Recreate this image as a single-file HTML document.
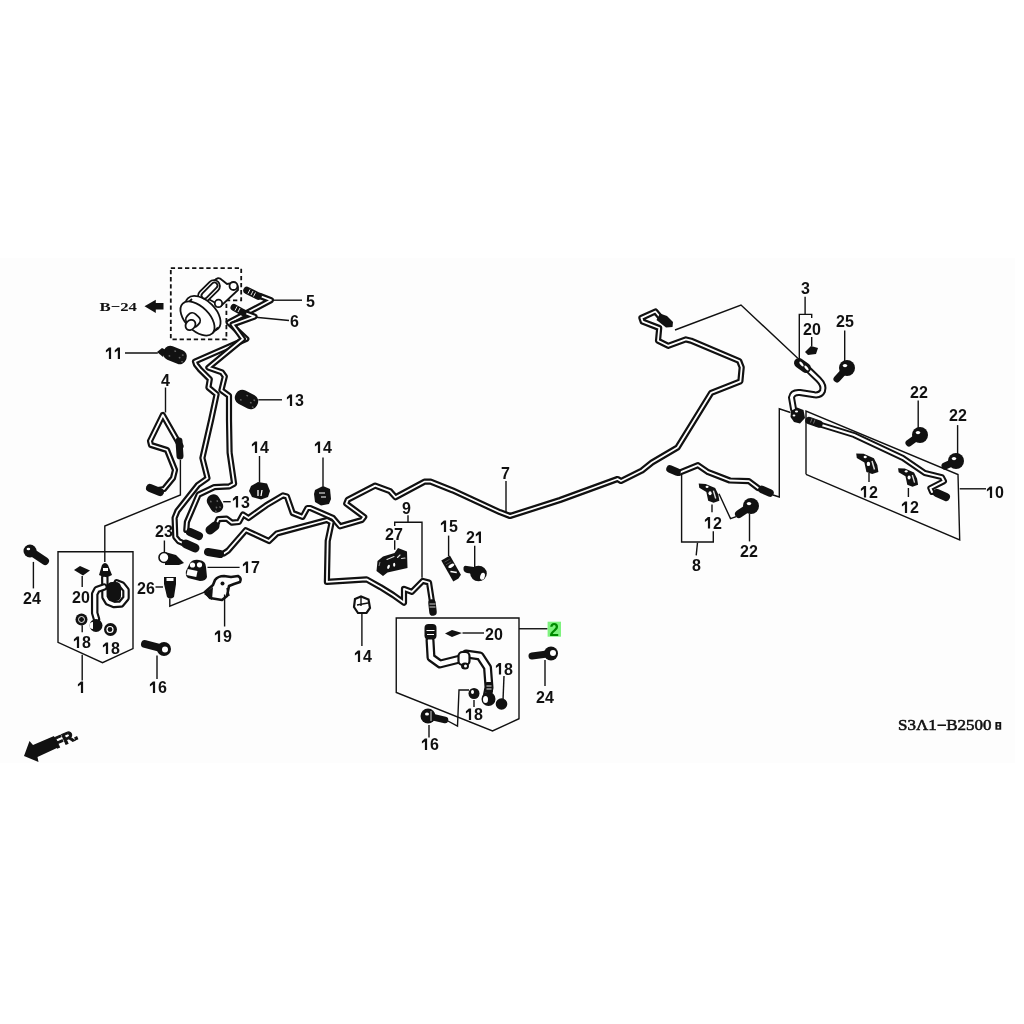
<!DOCTYPE html>
<html><head><meta charset="utf-8">
<style>
html,body{margin:0;padding:0;background:#fff;width:1024px;height:1024px;overflow:hidden}
svg{display:block;filter:blur(0.35px)}
.n{font-family:"Liberation Sans",sans-serif;font-size:16px;font-weight:bold;fill:#111}
.l{fill:none;stroke:#111;stroke-width:1.4}
.d{fill:#111}
</style></head><body>
<svg width="1024" height="1024" viewBox="0 0 1024 1024">
<rect x="0" y="258" width="1015" height="505" fill="#fdfdfd"/>

<g class="l">
<path d="M270,300.2 H302"/>
<path d="M253,317 L289,320.5"/>
<path d="M125,353 H157.8"/>
<path d="M165.5,387.5 V412.5"/>
<path d="M258.3,399.8 H282"/>
<path d="M259.5,456 V482.7"/>
<path d="M323,457.5 V486.6"/>
<path d="M223.2,501.7 H230.7"/>
<path d="M164.4,540.5 V552"/>
<path d="M207.5,567.4 H239.6"/>
<path d="M155.5,587 H163"/>
<path d="M169.8,598.6 V606.1 L208.8,590.4"/>
<path d="M224.6,594.5 V626.5"/>
<path d="M157,655.5 V679"/>
<path d="M361.9,613.75 V646"/>
<path d="M180.4,459.8 V495 L104.8,526 V561.9"/>
<path d="M58,551.7 H133 V648.6 L102.5,662.7 L58,642.3 Z"/>
<path d="M82.2,654.8 V680.6"/>
<path d="M82.2,576 V586.9"/>
<path d="M33.4,561.9 V588.4"/>
<path d="M82.2,625.2 V632.2"/>
<path d="M506,481 V512.5"/>
<path d="M408,515.3 V522.3"/>
<path d="M394.7,526 V522.3 H422 V577.8"/>
<path d="M394.7,540.3 V549.7"/>
<path d="M448.6,535.6 V556"/>
<path d="M474.7,545.8 V566.9"/>
<path d="M462.5,633 H484"/>
<path d="M396.25,618 H519 V718.75 L492.5,731 L396.25,692.5 Z"/>
<path d="M519,628.75 H547.5"/>
<path d="M504,676 L503,700"/>
<path d="M474,700 V707"/>
<path d="M429,725 V737.5"/>
<path d="M446,720 L457.5,726 L459,690 L469,690"/>
<path d="M545,660 V686"/>
<path d="M675,330 L741,305 L797.8,358.3"/>
<path d="M681.6,474.8 V542 H713.3 V531.25"/>
<path d="M697.5,542.7 L696.2,555.4"/>
<path d="M712,504.6 V512.2"/>
<path d="M719,493.8 L730.5,518.6 L736.2,516.6"/>
<path d="M749.5,513.5 V541.4"/>
<path d="M773,495 L779.3,497 V408.8 L790.5,412.5"/>
<path d="M805.1,296.8 V314.4"/>
<path d="M799.3,359.8 V314.4 H811.7 V318"/>
<path d="M811.7,337 V345.9"/>
<path d="M844.7,330.5 V361.3"/>
<path d="M806,474.3 V411 L958,474.5 L959.7,540 L806,474.3"/>
<path d="M959.7,488.8 H986"/>
<path d="M918.2,400.5 V429.2"/>
<path d="M957.6,425.1 V454.6"/>
<path d="M869,473 V482"/>
<path d="M908.4,488 V497"/>
</g>
<path d="M260.0,296.0 L270.9,300.2 L228.7,322.5 L246.3,339.0 L195.0,361.5 L196.0,364.5 L200.2,369.7 L209.8,379.2 L208.4,387.5 L216.6,394.3 L211.1,420.0 L202.4,458.0 L207.5,478.2 L197.9,485.0 L177.4,511.0 L174.6,517.9 L175.3,537.0 L178.7,541.1 L185.0,544.0" fill="none" stroke="#111" stroke-width="6.2" stroke-linejoin="round" stroke-linecap="round"/>
<path d="M260.0,296.0 L270.9,300.2 L228.7,322.5 L246.3,339.0 L195.0,361.5 L196.0,364.5 L200.2,369.7 L209.8,379.2 L208.4,387.5 L216.6,394.3 L211.1,420.0 L202.4,458.0 L207.5,478.2 L197.9,485.0 L177.4,511.0 L174.6,517.9 L175.3,537.0 L178.7,541.1 L185.0,544.0" fill="none" stroke="#fff" stroke-width="1.8" stroke-linejoin="round" stroke-linecap="round"/>
<path d="M245.0,313.0 L254.5,316.7 L232.5,324.5 L243.0,339.0 L208.4,367.6 L222.0,372.4 L224.8,376.5 L221.4,390.2 L229.0,395.7 L229.0,420.0 L229.6,452.7 L234.1,483.7 L229.3,486.4 L214.3,487.1 L198.6,494.6 L186.9,522.0 L186.3,530.0" fill="none" stroke="#111" stroke-width="6.2" stroke-linejoin="round" stroke-linecap="round"/>
<path d="M245.0,313.0 L254.5,316.7 L232.5,324.5 L243.0,339.0 L208.4,367.6 L222.0,372.4 L224.8,376.5 L221.4,390.2 L229.0,395.7 L229.0,420.0 L229.6,452.7 L234.1,483.7 L229.3,486.4 L214.3,487.1 L198.6,494.6 L186.9,522.0 L186.3,530.0" fill="none" stroke="#fff" stroke-width="1.8" stroke-linejoin="round" stroke-linecap="round"/>
<path d="M180.5,446.0 L162.8,415.0 L150.0,441.0 L151.0,445.0 L167.0,450.0 L175.0,470.0 L173.0,478.0 L164.0,489.0 L158.0,490.0" fill="none" stroke="#111" stroke-width="6.2" stroke-linejoin="round" stroke-linecap="round"/>
<path d="M180.5,446.0 L162.8,415.0 L150.0,441.0 L151.0,445.0 L167.0,450.0 L175.0,470.0 L173.0,478.0 L164.0,489.0 L158.0,490.0" fill="none" stroke="#fff" stroke-width="1.8" stroke-linejoin="round" stroke-linecap="round"/>
<path d="M215.7,526.0 L218.4,519.2 L226.6,518.6 L232.0,522.7 L238.9,522.0 L243.0,514.5 L248.5,518.0 L266.4,505.2 L283.0,495.4 L286.9,496.4 L292.7,513.0 L302.5,516.9 L307.4,508.0 L310.3,508.0 L332.8,517.8 L340.0,526.3 L361.9,520.0 L364.2,516.9 L346.2,503.6 L347.8,499.7 L375.2,485.6 L390.0,491.1 L395.5,497.3 L424.4,481.7 L430.6,481.7 L452.5,490.3 L500.0,512.2 L510.0,516.0 L560.0,500.0 L617.5,479.0 L621.0,481.0 L642.0,470.5 L652.0,462.5 L677.5,447.5 L711.2,392.8 L740.4,381.3 L741.7,367.4 L739.2,361.0 L691.0,340.7 L685.9,339.4 L668.1,345.8 L658.0,340.7 L659.2,328.0 L642.7,321.7 L641.4,317.9 L655.4,311.5 L660.0,317.0" fill="none" stroke="#111" stroke-width="6.2" stroke-linejoin="round" stroke-linecap="round"/>
<path d="M215.7,526.0 L218.4,519.2 L226.6,518.6 L232.0,522.7 L238.9,522.0 L243.0,514.5 L248.5,518.0 L266.4,505.2 L283.0,495.4 L286.9,496.4 L292.7,513.0 L302.5,516.9 L307.4,508.0 L310.3,508.0 L332.8,517.8 L340.0,526.3 L361.9,520.0 L364.2,516.9 L346.2,503.6 L347.8,499.7 L375.2,485.6 L390.0,491.1 L395.5,497.3 L424.4,481.7 L430.6,481.7 L452.5,490.3 L500.0,512.2 L510.0,516.0 L560.0,500.0 L617.5,479.0 L621.0,481.0 L642.0,470.5 L652.0,462.5 L677.5,447.5 L711.2,392.8 L740.4,381.3 L741.7,367.4 L739.2,361.0 L691.0,340.7 L685.9,339.4 L668.1,345.8 L658.0,340.7 L659.2,328.0 L642.7,321.7 L641.4,317.9 L655.4,311.5 L660.0,317.0" fill="none" stroke="#fff" stroke-width="1.8" stroke-linejoin="round" stroke-linecap="round"/>
<path d="M223.9,553.4 L228.0,550.7 L245.8,530.2 L269.0,541.0 L276.9,533.4 L326.9,520.0 L331.6,522.5 L327.7,541.0 L326.9,581.9 L366.6,579.4 L380.6,587.2 L393.1,595.0 L404.0,602.8 L404.0,588.8 L411.9,591.9 L422.8,580.9 L429.0,582.5 L432.0,602.0" fill="none" stroke="#111" stroke-width="6.2" stroke-linejoin="round" stroke-linecap="round"/>
<path d="M223.9,553.4 L228.0,550.7 L245.8,530.2 L269.0,541.0 L276.9,533.4 L326.9,520.0 L331.6,522.5 L327.7,541.0 L326.9,581.9 L366.6,579.4 L380.6,587.2 L393.1,595.0 L404.0,602.8 L404.0,588.8 L411.9,591.9 L422.8,580.9 L429.0,582.5 L432.0,602.0" fill="none" stroke="#fff" stroke-width="1.8" stroke-linejoin="round" stroke-linecap="round"/>
<path d="M679.0,472.9 L698.0,465.2 L708.2,472.2 L729.8,480.5 L748.9,481.1 L758.0,488.0" fill="none" stroke="#111" stroke-width="6.2" stroke-linejoin="round" stroke-linecap="round"/>
<path d="M679.0,472.9 L698.0,465.2 L708.2,472.2 L729.8,480.5 L748.9,481.1 L758.0,488.0" fill="none" stroke="#fff" stroke-width="1.8" stroke-linejoin="round" stroke-linecap="round"/>
<path d="M809.5,370.8 L818.5,379.5 Q824.5,385.5 822.5,391 Q820.5,395.5 814.5,394.8 L800,392.5 Q792.5,391.8 791.5,397.5 L793.5,409" fill="none" stroke="#111" stroke-width="7" stroke-linejoin="round" stroke-linecap="round"/>
<path d="M809.5,370.8 L818.5,379.5 Q824.5,385.5 822.5,391 Q820.5,395.5 814.5,394.8 L800,392.5 Q792.5,391.8 791.5,397.5 L793.5,409" fill="none" stroke="#fff" stroke-width="3" stroke-linejoin="round" stroke-linecap="round"/>
<path d="M815.0,423.0 L854.0,435.0 L902.9,458.0 L924.8,473.0 L941.9,477.1 L944.0,481.2 L930.3,488.1 L932.0,492.0" fill="none" stroke="#111" stroke-width="6" stroke-linejoin="round" stroke-linecap="round"/>
<path d="M815.0,423.0 L854.0,435.0 L902.9,458.0 L924.8,473.0 L941.9,477.1 L944.0,481.2 L930.3,488.1 L932.0,492.0" fill="none" stroke="#fff" stroke-width="2" stroke-linejoin="round" stroke-linecap="round"/>
<path d="M104.8,577.5 L105.0,597.0 L108.0,602.0 L114.0,604.5 L121.0,604.0 L126.0,598.0 L126.0,590.0 L122.0,585.0 L117.0,583.0" fill="none" stroke="#111" stroke-width="7.5" stroke-linejoin="round" stroke-linecap="round"/>
<path d="M104.8,577.5 L105.0,597.0 L108.0,602.0 L114.0,604.5 L121.0,604.0 L126.0,598.0 L126.0,590.0 L122.0,585.0 L117.0,583.0" fill="none" stroke="#fff" stroke-width="3.2" stroke-linejoin="round" stroke-linecap="round"/>
<path d="M104.0,587.0 L97.0,589.5 L94.7,594.0 L94.7,613.0 L96.5,619.0" fill="none" stroke="#111" stroke-width="7.5" stroke-linejoin="round" stroke-linecap="round"/>
<path d="M104.0,587.0 L97.0,589.5 L94.7,594.0 L94.7,613.0 L96.5,619.0" fill="none" stroke="#fff" stroke-width="3.2" stroke-linejoin="round" stroke-linecap="round"/>
<path d="M430.0,640.0 L431.0,657.5 L440.0,664.0 L460.0,659.0 L466.0,654.0 L480.0,656.0 L487.5,667.5 L489.0,687.5 L487.5,695.0" fill="none" stroke="#111" stroke-width="9" stroke-linejoin="round" stroke-linecap="round"/>
<path d="M430.0,640.0 L431.0,657.5 L440.0,664.0 L460.0,659.0 L466.0,654.0 L480.0,656.0 L487.5,667.5 L489.0,687.5 L487.5,695.0" fill="none" stroke="#fff" stroke-width="4.5" stroke-linejoin="round" stroke-linecap="round"/>
<path d="M170.8,268.2 H241.2 V300.4 H226.4 V339.3 H170.8 Z" fill="none" stroke="#111" stroke-width="1.8" stroke-dasharray="4.3,2.8"/>
<text x="99.5" y="311.4" font-family="Liberation Serif,serif" font-size="13.5" font-weight="bold" fill="#111" textLength="37.5" lengthAdjust="spacingAndGlyphs">B−24</text>
<path d="M144.5,306.3 L155.8,299.7 V303 H163.5 V309.4 H155.8 V312.9 Z" fill="#111"/>
<g fill="#fff" stroke="#111" stroke-width="1.8"><path d="M203,296 L214,281 Q218,276 222,280 L227,284 L233,283 Q239,284 238,290 L221,306 Z"/><rect x="-6" y="-13" width="12" height="26" rx="6" transform="translate(209,291) rotate(45)"/><circle cx="233.5" cy="286" r="4"/><circle cx="218.5" cy="303.4" r="3.7"/><ellipse cx="203" cy="313.5" rx="21.5" ry="12.5" transform="rotate(45 203 313.5)"/><path d="M186.5,304.5 L192,299" stroke-width="1.8"/><path d="M212.5,333 L218,327.5" stroke-width="1.8"/><ellipse cx="197.5" cy="318.5" rx="21" ry="11.8" transform="rotate(45 197.5 318.5)"/><rect x="186" y="314" width="14" height="12" rx="5" transform="rotate(42 193 320)"/><ellipse cx="190.5" cy="325" rx="4.5" ry="5.5" transform="rotate(42 190.5 325)"/><rect x="-3" y="-10" width="6" height="20" rx="3" transform="translate(209.5,290.5) rotate(45)"/></g>
<path d="M247,290.5 L258,296" stroke="#111" stroke-width="7.5" stroke-linecap="round"/>
<path d="M234,307.5 L243,312.5" stroke="#111" stroke-width="7" stroke-linecap="round"/>
<path d="M250,289.5 l-2,4 M253,291 l-2,4 M255.5,292.5 l-2,4" stroke="#fff" stroke-width="0.9"/>
<path d="M237,306.5 l-2,4 M240,308 l-2,4" stroke="#fff" stroke-width="0.9"/>
<g transform="translate(175,355) rotate(22)"><rect x="-12.0" y="-7.25" width="24" height="14.5" rx="6.59090909090909" fill="#111"/><ellipse cx="-1.2" cy="-3.6" rx="1" ry="0.8" fill="#666"/><ellipse cx="5.3" cy="0.7" rx="1" ry="0.8" fill="#666"/><ellipse cx="7.2" cy="-2.9" rx="1" ry="0.8" fill="#666"/><ellipse cx="9.1" cy="3.6" rx="1" ry="0.8" fill="#666"/><ellipse cx="-4.8" cy="2.9" rx="1" ry="0.8" fill="#666"/></g>
<path d="M157,352 L162,348 L166,350 L163,357 Z" fill="#111"/>
<g transform="translate(246.5,399.5) rotate(28)"><rect x="-12.0" y="-7.5" width="24" height="15" rx="6.8181818181818175" fill="#111"/><ellipse cx="-1.2" cy="-3.8" rx="1" ry="0.8" fill="#666"/><ellipse cx="5.3" cy="0.8" rx="1" ry="0.8" fill="#666"/><ellipse cx="7.2" cy="-3.0" rx="1" ry="0.8" fill="#666"/><ellipse cx="9.1" cy="3.8" rx="1" ry="0.8" fill="#666"/><ellipse cx="-4.8" cy="3.0" rx="1" ry="0.8" fill="#666"/></g>
<g transform="translate(215,503.5) rotate(60)"><rect x="-9.5" y="-6.5" width="19" height="13" rx="5.909090909090908" fill="#111"/><ellipse cx="-1.0" cy="-3.2" rx="1" ry="0.8" fill="#666"/><ellipse cx="4.2" cy="0.7" rx="1" ry="0.8" fill="#666"/><ellipse cx="5.7" cy="-2.6" rx="1" ry="0.8" fill="#666"/><ellipse cx="7.2" cy="3.2" rx="1" ry="0.8" fill="#666"/><ellipse cx="-3.8" cy="2.6" rx="1" ry="0.8" fill="#666"/></g>
<path d="M251,486 L258,482 L267,483.5 L270,491 L268,497 L261,499.5 L252,497 L249,491 Z" fill="#111"/><path d="M258,490 v6 M262,490 l-1,6" stroke="#fff" stroke-width="1.3"/>
<path d="M315,490 L323,486 L330,489 L331,499 L329,504 L321,505.5 L315,502 L314,494 Z" fill="#111"/><path d="M319,493 h6 M321,497 h5" stroke="#fff" stroke-width="1.1"/>
<path d="M355,599 L361,596.5 L368.5,599.5 L370,608 L366.5,613 L358,613 L354,607 Z" fill="#fff" stroke="#111" stroke-width="2.2"/><path d="M357,605 L368,603 M361,597 v9" stroke="#111" stroke-width="1.4"/>
<path d="M150,488 L160,492" stroke="#111" stroke-width="8" stroke-linecap="round"/>
<path d="M179,441 L180,456" stroke="#111" stroke-width="7" stroke-linecap="round"/>
<path d="M186,544 L195,548" stroke="#111" stroke-width="9" stroke-linecap="round"/>
<path d="M190,532 L199,536" stroke="#111" stroke-width="8" stroke-linecap="round"/>
<path d="M210,530 L215,526" stroke="#111" stroke-width="9" stroke-linecap="round"/>
<path d="M208,552 L220,554" stroke="#111" stroke-width="8" stroke-linecap="round"/>
<path d="M165,552 L176,555 L184,563 L179,565 L165,565 Z" fill="#111"/><circle cx="164" cy="557.5" r="5" fill="#fff" stroke="#111" stroke-width="1.6"/>
<path d="M190,563 Q193,559 199,560 Q206,561 206,567 L207,577 Q206,581 200,581 L188,578 Q185,576 186,571 Z" fill="#111"/><circle cx="192.5" cy="565" r="2.6" fill="#fff"/><circle cx="199.5" cy="564.8" r="2.6" fill="#fff"/><rect x="187" y="570" width="10" height="6" fill="#fff" transform="rotate(12 192 573)"/>
<path d="M164,577 H176 V584 L174,597 Q170,600 167,597 L164,584 Z" fill="#111"/><rect x="166.5" y="578" width="7" height="3" fill="#fff"/>
<path d="M205,592 L213,585 L215,580 Q218,576 224,576 L231,577 L238,576 Q242,578 240,582 L234,584 L229,586 L227,596 L222,600 L210,598 Z" fill="none" stroke="#111" stroke-width="2.6" stroke-linejoin="round"/><circle cx="222.5" cy="583.5" r="2" fill="#111"/><path d="M204,594 L213,587 L212,600 Z" fill="#111"/><path d="M227,588 L229,596" stroke="#111" stroke-width="1.5"/>
<path d="M164,649 L145,644" stroke="#111" stroke-width="8" stroke-linecap="round"/><circle cx="164" cy="649" r="7" fill="#111"/>
<circle cx="165" cy="649.5" r="3" fill="#fff"/>
<path d="M30,551 L45,561" stroke="#111" stroke-width="8" stroke-linecap="round"/><circle cx="30" cy="551" r="6.5" fill="#111"/><ellipse cx="28.4" cy="549.0" rx="1.8" ry="1.3" fill="#fff"/>
<path d="M74,570 L80,566 L90,570.5 L83,575.5 Z" fill="#111"/>
<path d="M99,575 L102,565 Q105,561 108,565 L112,575 Q106,579 99,575 Z" fill="#111"/><rect x="103" y="568" width="5" height="3" fill="#fff"/>
<rect x="107" y="582" width="14" height="19" rx="5" fill="#111"/>
<circle cx="81.5" cy="619.5" r="6" fill="#111"/><circle cx="81.5" cy="619.5" r="3" fill="none" stroke="#fff" stroke-width="0.9"/>
<circle cx="96" cy="625.5" r="6.5" fill="#111"/><path d="M93,622 a3.5,3.5 0 0 0 0,7" fill="#fff"/>
<circle cx="110.5" cy="629.5" r="6.5" fill="#111"/><circle cx="110" cy="629.5" r="3" fill="none" stroke="#fff" stroke-width="1.2"/>
<path d="M377.5,561 L383,556.5 L394.5,553 L398,548 L407,551.5 L407.5,568 L387.5,572.5 L383,576 L376.5,571 Z" fill="#111"/><path d="M387,559.5 L394,556.5 M397.5,557.5 L400,555 M401.5,558.5 L405,558" stroke="#ddd" stroke-width="1.1" stroke-linecap="round"/><ellipse cx="388.5" cy="566.8" rx="1.2" ry="2.2" transform="rotate(20 388.5 566.8)" fill="#fff"/><ellipse cx="394.2" cy="564.8" rx="1.1" ry="2" fill="#fff"/><path d="M380,562 L379,566" stroke="#888" stroke-width="1"/>
<g transform="translate(451.6,568.5) rotate(60)"><path d="M-12,-5 L10,-5 L12,-1 L12,5 L-12,5 Z" fill="#111"/><ellipse cx="-2.5" cy="-1" rx="1.6" ry="3.2" fill="#fff"/><path d="M2,2.5 L6,-2.5" stroke="#fff" stroke-width="1.6"/><path d="M-9,-3 v6 M-6,-3 v6" stroke="#555" stroke-width="0.8"/></g>
<path d="M463.5,567.5 Q464,565 467,566 L474,567 L474,574 L467,573 Q463,572 463.5,567.5 Z" fill="#111"/>
<ellipse cx="478.5" cy="573.5" rx="8.3" ry="7.8" fill="#111"/>
<ellipse cx="482.5" cy="576.3" rx="2.3" ry="3.6" transform="rotate(15 482.5 576.3)" fill="#fff"/>
<path d="M432,603 L433,612" stroke="#111" stroke-width="7.5" stroke-linecap="round"/>
<path d="M429.5,604 h6 M429.5,607 h6" stroke="#fff" stroke-width="0.8"/>
<rect x="424.5" y="624" width="12" height="15.5" rx="4" fill="#111"/><path d="M426.5,630.5 h8 M427,634.5 h7" stroke="#fff" stroke-width="1"/>
<rect x="458.5" y="652" width="11" height="13" rx="4" fill="#fff" stroke="#111" stroke-width="2.2"/><ellipse cx="465" cy="666" rx="4" ry="3.5" fill="#111"/><ellipse cx="465.5" cy="666" rx="1.5" ry="1.5" fill="#fff"/>
<circle cx="488.5" cy="699" r="7" fill="#111"/><ellipse cx="485.5" cy="699.5" rx="2.5" ry="3.5" fill="#fff"/><rect x="485" y="682" width="8" height="11" rx="2" fill="#111"/><path d="M486.5,686 h5 M486.5,689 h5" stroke="#fff" stroke-width="0.9"/>
<path d="M445,633.5 L452,630 L462,633 L452,637 Z" fill="#111"/>
<circle cx="474" cy="693.5" r="5.5" fill="#111"/><ellipse cx="472.5" cy="692" rx="1.5" ry="2" fill="#fff"/>
<circle cx="501.5" cy="704" r="5.8" fill="#111"/>
<path d="M428,716 L445,720" stroke="#111" stroke-width="6.5" stroke-linecap="round"/><circle cx="428" cy="716" r="7.5" fill="#111"/>
<ellipse cx="427" cy="714" rx="2" ry="1.6" fill="#fff"/><path d="M431,711 v10" stroke="#fff" stroke-width="0.8"/>
<path d="M551,653.5 L532,656" stroke="#111" stroke-width="7" stroke-linecap="round"/><circle cx="551" cy="653.5" r="7" fill="#111"/>
<circle cx="553" cy="653" r="3" fill="#fff"/>
<path d="M656.5,320 L660,313.5 L667,316 L673,322 L672.5,327 L666,327.5 Z" fill="#111"/>
<path d="M670,469 L677,472" stroke="#111" stroke-width="7.5" stroke-linecap="round"/>
<path d="M762,489.5 L770,493" stroke="#111" stroke-width="7.5" stroke-linecap="round"/>
<g transform="translate(698.7,483.6) scale(0.93)"><path d="M0,0 L7.5,0.3 L17.7,4.8 L21.1,11.6 L22.2,18.4 L16,20.5 L10.2,18.4 L8.2,8.9 L0.6,4.4 Z" fill="#111"/><ellipse cx="9" cy="3.5" rx="1.6" ry="1.3" fill="#fff"/><ellipse cx="12.2" cy="10.4" rx="1.7" ry="2.2" fill="#fff"/><path d="M15.8,7.5 L18.3,16" stroke="#ddd" stroke-width="1.5"/></g>
<path d="M751,506 L739,514" stroke="#111" stroke-width="8" stroke-linecap="round"/><circle cx="751" cy="506" r="8" fill="#111"/><ellipse cx="749.0" cy="503.6" rx="2.2" ry="1.6" fill="#fff"/>
<path d="M805,352 L811,346 L818,348 L816,354 L808,355 Z" fill="#111"/>
<path d="M847,368 L837,379" stroke="#111" stroke-width="7" stroke-linecap="round"/><circle cx="847" cy="368" r="8" fill="#111"/><ellipse cx="845.0" cy="365.6" rx="2.2" ry="1.6" fill="#fff"/>
<path d="M799,363 L806,368" stroke="#111" stroke-width="10" stroke-linecap="round"/>
<ellipse cx="801.5" cy="364" rx="1.3" ry="3" transform="rotate(-40 801.5 364)" fill="#fff"/><ellipse cx="806.5" cy="368" rx="1.3" ry="3" transform="rotate(-40 806.5 368)" fill="#fff"/>
<path d="M791,411 L797,407.5 L803.5,410 L805,418 L800,423.5 L794,422 L790.5,417 Z" fill="#111"/><ellipse cx="796.5" cy="411.5" rx="1.6" ry="1" fill="#fff"/><ellipse cx="794" cy="415.5" rx="1.4" ry="0.9" fill="#fff"/>
<path d="M809,420.5 L819,424" stroke="#111" stroke-width="7.5" stroke-linecap="round"/>
<path d="M812,418.5 l-1.5,4 M815,419.5 l-1.5,4" stroke="#888" stroke-width="0.8"/>
<path d="M920,435 L909,443" stroke="#111" stroke-width="7" stroke-linecap="round"/><circle cx="920" cy="435" r="8" fill="#111"/><ellipse cx="918.0" cy="432.6" rx="2.2" ry="1.6" fill="#fff"/>
<path d="M956,461 L945,466" stroke="#111" stroke-width="7" stroke-linecap="round"/><circle cx="956" cy="461" r="8" fill="#111"/><ellipse cx="954.0" cy="458.6" rx="2.2" ry="1.6" fill="#fff"/>
<g transform="translate(856.2,453.5) scale(1.0)"><path d="M0,0 L7.5,0.3 L17.7,4.8 L21.1,11.6 L22.2,18.4 L16,20.5 L10.2,18.4 L8.2,8.9 L0.6,4.4 Z" fill="#111"/><ellipse cx="9" cy="3.5" rx="1.6" ry="1.3" fill="#fff"/><ellipse cx="12.2" cy="10.4" rx="1.7" ry="2.2" fill="#fff"/><path d="M15.8,7.5 L18.3,16" stroke="#ddd" stroke-width="1.5"/></g>
<g transform="translate(898.1,468.2) scale(0.9)"><path d="M0,0 L7.5,0.3 L17.7,4.8 L21.1,11.6 L22.2,18.4 L16,20.5 L10.2,18.4 L8.2,8.9 L0.6,4.4 Z" fill="#111"/><ellipse cx="9" cy="3.5" rx="1.6" ry="1.3" fill="#fff"/><ellipse cx="12.2" cy="10.4" rx="1.7" ry="2.2" fill="#fff"/><path d="M15.8,7.5 L18.3,16" stroke="#ddd" stroke-width="1.5"/></g>
<path d="M937,493 L946,497" stroke="#111" stroke-width="8" stroke-linecap="round"/>
<path d="M24,756 L29.5,741 L33,745 L54,736 L58,747.5 L37.5,757 L38.5,762 Z" fill="#111"/>
<text x="0" y="0" transform="translate(56.5,748.5) rotate(-24)" font-family="Liberation Sans,sans-serif" font-weight="bold" font-size="15.5" fill="#111" stroke="#111" stroke-width="1.1" letter-spacing="-0.3">FR.</text>
<rect x="547.6" y="621.7" width="13.4" height="15" fill="#7ef27e"/>
<text x="549.6" y="636.2" font-family="Liberation Sans,sans-serif" font-size="17.5" font-weight="bold" fill="#008a00" textLength="9.4" lengthAdjust="spacingAndGlyphs">2</text>
<text x="898" y="730.3" font-family="Liberation Serif,serif" font-size="15" fill="#111" stroke="#111" stroke-width="0.55" textLength="93.5" lengthAdjust="spacingAndGlyphs">S3Λ1−B2500</text>
<rect x="995.4" y="722" width="5.8" height="7.7" fill="#111"/><rect x="997.3" y="723.5" width="2" height="1.8" fill="#fff"/><rect x="997.3" y="726.5" width="2" height="1.8" fill="#fff"/>
<g class="n">
<text x="306.00" y="306.5">5</text>
<text x="290.00" y="326.5">6</text>
<path d="M108.90,347.50 H111.10 V359.00 H108.90 V350.60 L105.90,352.40 V350.30 Z" fill="#111"/>
<path d="M117.80,347.50 H120.00 V359.00 H117.80 V350.60 L114.80,352.40 V350.30 Z" fill="#111"/>
<text x="161.00" y="386">4</text>
<path d="M289.90,394.50 H292.10 V406.00 H289.90 V397.60 L286.90,399.40 V397.30 Z" fill="#111"/>
<text x="294.90" y="406">3</text>
<path d="M254.90,441.50 H257.10 V453.00 H254.90 V444.60 L251.90,446.40 V444.30 Z" fill="#111"/>
<text x="259.90" y="453">4</text>
<path d="M317.90,441.50 H320.10 V453.00 H317.90 V444.60 L314.90,446.40 V444.30 Z" fill="#111"/>
<text x="322.90" y="453">4</text>
<path d="M235.90,496.00 H238.10 V507.50 H235.90 V499.10 L232.90,500.90 V498.80 Z" fill="#111"/>
<text x="240.90" y="507.5">3</text>
<text x="155.00" y="537">2</text>
<text x="163.90" y="537">3</text>
<path d="M245.90,561.50 H248.10 V573.00 H245.90 V564.60 L242.90,566.40 V564.30 Z" fill="#111"/>
<text x="250.90" y="573">7</text>
<text x="137.00" y="594">2</text>
<text x="145.90" y="594">6</text>
<path d="M217.90,630.50 H220.10 V642.00 H217.90 V633.60 L214.90,635.40 V633.30 Z" fill="#111"/>
<text x="222.90" y="642">9</text>
<path d="M152.90,681.50 H155.10 V693.00 H152.90 V684.60 L149.90,686.40 V684.30 Z" fill="#111"/>
<text x="157.90" y="693">6</text>
<path d="M357.90,650.50 H360.10 V662.00 H357.90 V653.60 L354.90,655.40 V653.30 Z" fill="#111"/>
<text x="362.90" y="662">4</text>
<text x="23.00" y="604">2</text>
<text x="31.90" y="604">4</text>
<path d="M80.90,681.50 H83.10 V693.00 H80.90 V684.60 L77.90,686.40 V684.30 Z" fill="#111"/>
<text x="72.00" y="603">2</text>
<text x="80.90" y="603">0</text>
<path d="M76.90,636.50 H79.10 V648.00 H76.90 V639.60 L73.90,641.40 V639.30 Z" fill="#111"/>
<text x="81.90" y="648">8</text>
<path d="M105.90,642.50 H108.10 V654.00 H105.90 V645.60 L102.90,647.40 V645.30 Z" fill="#111"/>
<text x="110.90" y="654">8</text>
<text x="501.00" y="479">7</text>
<text x="402.00" y="514">9</text>
<text x="385.00" y="540">2</text>
<text x="393.90" y="540">7</text>
<path d="M443.90,520.50 H446.10 V532.00 H443.90 V523.60 L440.90,525.40 V523.30 Z" fill="#111"/>
<text x="448.90" y="532">5</text>
<text x="466.00" y="543">2</text>
<path d="M478.80,531.50 H481.00 V543.00 H478.80 V534.60 L475.80,536.40 V534.30 Z" fill="#111"/>
<text x="485.00" y="640">2</text>
<text x="493.90" y="640">0</text>
<path d="M498.90,663.00 H501.10 V674.50 H498.90 V666.10 L495.90,667.90 V665.80 Z" fill="#111"/>
<text x="503.90" y="674.5">8</text>
<path d="M468.90,708.50 H471.10 V720.00 H468.90 V711.60 L465.90,713.40 V711.30 Z" fill="#111"/>
<text x="473.90" y="720">8</text>
<path d="M424.90,738.50 H427.10 V750.00 H424.90 V741.60 L421.90,743.40 V741.30 Z" fill="#111"/>
<text x="429.90" y="750">6</text>
<text x="536.00" y="702.5">2</text>
<text x="544.90" y="702.5">4</text>
<text x="692.00" y="571">8</text>
<path d="M707.90,517.00 H710.10 V528.50 H707.90 V520.10 L704.90,521.90 V519.80 Z" fill="#111"/>
<text x="712.90" y="528.5">2</text>
<text x="740.00" y="557">2</text>
<text x="748.90" y="557">2</text>
<text x="801.00" y="294">3</text>
<text x="803.00" y="334.5">2</text>
<text x="811.90" y="334.5">0</text>
<text x="836.00" y="327">2</text>
<text x="844.90" y="327">5</text>
<text x="910.00" y="398">2</text>
<text x="918.90" y="398">2</text>
<text x="949.00" y="420.5">2</text>
<text x="957.90" y="420.5">2</text>
<path d="M863.90,486.00 H866.10 V497.50 H863.90 V489.10 L860.90,490.90 V488.80 Z" fill="#111"/>
<text x="868.90" y="497.5">2</text>
<path d="M904.90,501.50 H907.10 V513.00 H904.90 V504.60 L901.90,506.40 V504.30 Z" fill="#111"/>
<text x="909.90" y="513">2</text>
<path d="M989.90,486.50 H992.10 V498.00 H989.90 V489.60 L986.90,491.40 V489.30 Z" fill="#111"/>
<text x="994.90" y="498">0</text>
</g>

</svg>
</body></html>
